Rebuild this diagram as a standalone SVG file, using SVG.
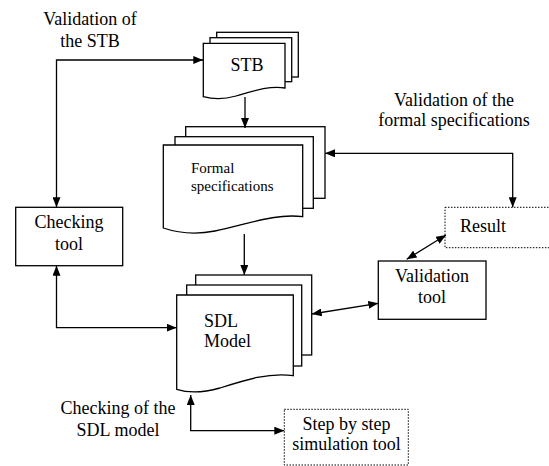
<svg xmlns="http://www.w3.org/2000/svg" width="549" height="466" viewBox="0 0 549 466">
<style>
text{font-family:"Liberation Serif",Tinos,"Times New Roman",Times,"DejaVu Serif","Noto Serif",serif;font-size:18px;fill:#000}
.sm{font-size:15px}
.sheet{fill:#fff;stroke:#000;stroke-width:1.3}
.box{fill:#fff;stroke:#000;stroke-width:1.3}
.dot{fill:#fff;stroke:#000;stroke-width:1;stroke-dasharray:1.5 1.5}
.ln{fill:none;stroke:#000;stroke-width:1.3}
</style>
<defs>
<marker id="ah" viewBox="0 0 10 8" refX="10" refY="4" markerWidth="10" markerHeight="8" markerUnits="userSpaceOnUse" orient="auto-start-reverse">
<path d="M0,0 L10,4 L0,8 Z" fill="#000"/>
</marker>
</defs>
<rect width="549" height="466" fill="#fff"/>
<g id="labels" font-family="Liberation Serif, serif">
<text x="90" y="25" text-anchor="middle">Validation of</text>
<text x="90" y="47" text-anchor="middle">the STB</text>
<text x="454" y="106" text-anchor="middle">Validation of the</text>
<text x="454" y="126" text-anchor="middle">formal specifications</text>
<text x="118" y="414" text-anchor="middle">Checking of the</text>
<text x="118" y="436" text-anchor="middle">SDL model</text>
</g>
<g id="stb">
<rect class="sheet" x="216.7" y="32.3" width="81.6" height="44.7"/>
<rect class="sheet" x="210" y="37.7" width="81.7" height="44"/>
<path class="sheet" d="M203.3,43.3 H285 V88 C270,85 250,92 236,96 C222,100 212,99 203.3,96.7 Z"/>
<text x="247" y="71" text-anchor="middle">STB</text>
</g>
<g id="formal">
<rect class="sheet" x="185.7" y="126.7" width="139.3" height="71.6"/>
<rect class="sheet" x="175" y="136.7" width="138.3" height="71.6"/>
<path class="sheet" d="M163.3,145 H302.7 V216.7 C275,213 245,225 215,231 C195,235 178,233 163.3,228 Z"/>
<text class="sm" x="191" y="173">Formal</text>
<text class="sm" x="191" y="191">specifications</text>
</g>
<g id="sdl">
<rect class="sheet" x="195.7" y="275" width="116" height="80"/>
<rect class="sheet" x="186.7" y="285" width="115" height="81"/>
<path class="sheet" d="M176.7,295 H293.3 V375.7 C270,372 245,380 220,388 C202,393 188,393 176.7,389.3 Z"/>
<text x="204" y="327">SDL</text>
<text x="204" y="347">Model</text>
</g>
<g id="checking">
<rect class="box" x="15.7" y="207.3" width="107" height="58.4"/>
<text x="69" y="227.5" text-anchor="middle">Checking</text>
<text x="69" y="249.5" text-anchor="middle">tool</text>
</g>
<g id="validation">
<rect class="box" x="378.3" y="261" width="107.7" height="58.3"/>
<text x="432" y="282" text-anchor="middle">Validation</text>
<text x="432" y="303" text-anchor="middle">tool</text>
</g>
<g id="result">
<rect class="dot" x="445" y="207.3" width="110" height="40.4"/>
<text x="460" y="232">Result</text>
</g>
<g id="step">
<rect class="dot" x="284.3" y="409.3" width="124" height="55.7"/>
<text x="346.5" y="430" text-anchor="middle">Step by step</text>
<text x="346.5" y="450" text-anchor="middle">simulation tool</text>
</g>
<g id="connectors">
<path class="ln" d="M203.3,60 H56.5 V207.3" marker-start="url(#ah)" marker-end="url(#ah)"/>
<path class="ln" d="M245,97 V128" marker-end="url(#ah)"/>
<path class="ln" d="M244.3,234 V275" marker-end="url(#ah)"/>
<path class="ln" d="M325,153.3 H512.7 V207.3" marker-start="url(#ah)" marker-end="url(#ah)"/>
<path class="ln" d="M446,235 L406.7,259.3" marker-start="url(#ah)" marker-end="url(#ah)"/>
<path class="ln" d="M311.7,314 L378.3,303.3" marker-start="url(#ah)" marker-end="url(#ah)"/>
<path class="ln" d="M56.5,265.7 V327.7 H176.7" marker-start="url(#ah)" marker-end="url(#ah)"/>
<path class="ln" d="M190.7,395 V430.7 H284.3" marker-start="url(#ah)" marker-end="url(#ah)"/>
</g>
</svg>
